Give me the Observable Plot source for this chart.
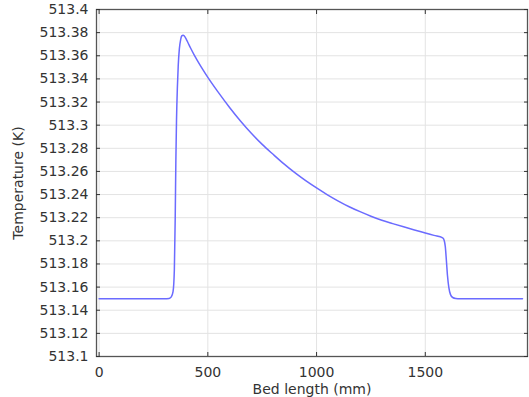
<!DOCTYPE html>
<html>
<head>
<meta charset="utf-8">
<script src="https://cdn.jsdelivr.net/npm/d3@7"></script>
<script src="https://cdn.jsdelivr.net/npm/@observablehq/plot@0.6"></script>
<style>
  html, body { margin: 0; padding: 0; background: #fff; }
  svg { display: block; }
</style>
</head>
<body>
<div id="chart"></div>
<script>
// Bed length (mm)
const bedLength = [0, 300, 322, 332, 340, 346, 350, 353, 356, 360, 364, 369, 375, 380, 386, 392, 400, 410, 420, 437, 450, 470, 500, 550, 600, 650, 700, 750, 800, 850, 900, 950, 1000, 1050, 1100, 1150, 1200, 1250, 1300, 1350, 1400, 1450, 1500, 1540, 1580, 1587, 1592, 1597, 1602, 1608, 1616, 1626, 1640, 1660, 1947];
// Temperature (K)
const temperature = [513.15, 513.15, 513.1502, 513.1515, 513.156, 513.175, 513.22, 513.27, 513.305, 513.333, 513.352, 513.366, 513.374, 513.3772, 513.3777, 513.3771, 513.3747, 513.3708, 513.3669, 513.3608, 513.3565, 513.3502, 513.3413, 513.3279, 513.3153, 513.3036, 513.2930, 513.2834, 513.2748, 513.2665, 513.2589, 513.2520, 513.2457, 513.2398, 513.2344, 513.2295, 513.2252, 513.2213, 513.2178, 513.2149, 513.2121, 513.2094, 513.2068, 513.2047, 513.2026, 513.2003, 513.195, 513.183, 513.170, 513.160, 513.1535, 513.151, 513.1502, 513.15, 513.15];

const xTicks = [0, 500, 1000, 1500];
const yTicks = [513.1, 513.12, 513.14, 513.16, 513.18, 513.2, 513.22, 513.24, 513.26, 513.28, 513.3, 513.32, 513.34, 513.36, 513.38, 513.4];

const data = bedLength.map((x, i) => ({x, t: temperature[i]}));
const fmt = d => String(+d.toFixed(2));

const chart = Plot.plot({
  width: 529,
  height: 397,
  marginLeft: 96,
  marginRight: 2,
  marginTop: 9,
  marginBottom: 41,
  style: {fontFamily: "DejaVu Sans", fontSize: "14px", color: "#333", background: "#fff"},
  x: {domain: [-12, 1970]},
  y: {domain: [513.1, 513.4]},
  marks: [
    Plot.gridX(xTicks, {stroke: "#e3e3e3", strokeOpacity: 1, strokeWidth: 1}),
    Plot.gridY(yTicks, {stroke: "#e3e3e3", strokeOpacity: 1, strokeWidth: 1}),
    Plot.line(data, {x: "x", y: "t", stroke: "#6b6bff", strokeWidth: 1.5, curve: "monotone-x"}),
    Plot.frame({stroke: "#555", strokeWidth: 1.3}),
    Plot.axisY(yTicks, {anchor: "left", tickSize: -4, tickPadding: 12, tickFormat: fmt, stroke: "#333", label: "Temperature (K)", labelAnchor: "center", labelOffset: 83, labelArrow: false}),
    Plot.axisY(yTicks, {anchor: "right", tickSize: -4, tickFormat: () => "", stroke: "#333", label: null}),
    Plot.axisX(xTicks, {anchor: "bottom", tickSize: -4, tickPadding: 15, tickFormat: d => String(d), stroke: "#333", label: "Bed length (mm)", labelAnchor: "center", labelOffset: 37, labelArrow: false}),
    Plot.axisX(xTicks, {anchor: "top", tickSize: -4, tickFormat: () => "", stroke: "#333", label: null})
  ]
});
document.getElementById("chart").appendChild(chart);
</script>
</body>
</html>
